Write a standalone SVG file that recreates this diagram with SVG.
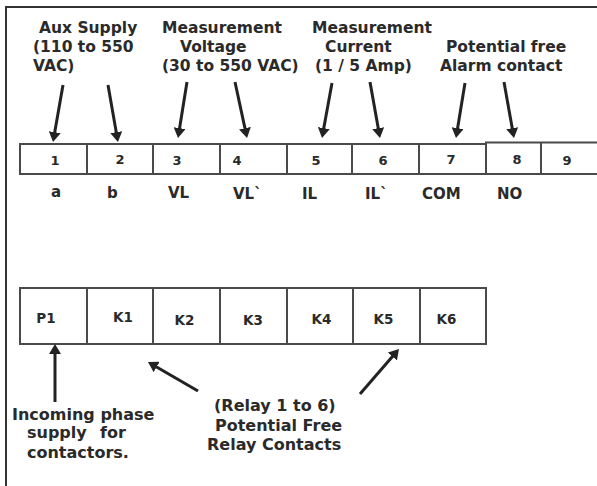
<svg xmlns="http://www.w3.org/2000/svg" width="597" height="486" viewBox="0 0 597 486">
<style>
text{font-family:"DejaVu Sans",Verdana,sans-serif;font-weight:bold;fill:#2a2a2a}
.h{font-size:15.5px}
.n{font-size:13px;text-anchor:middle}
.l{font-size:15px}
.k{font-size:13.5px;text-anchor:middle}
.b{font-size:16px}
.box{fill:#fff;stroke:#4a4a4a;stroke-width:2}
.div{stroke:#4a4a4a;stroke-width:2}
.arr{stroke:#222;stroke-width:3;fill:none;marker-end:url(#ah)}
.frame{stroke:#333;stroke-width:2;fill:none}
</style>
<defs>
<marker id="ah" viewBox="0 0 10 12" refX="5" refY="6" markerWidth="10" markerHeight="12" markerUnits="userSpaceOnUse" orient="auto">
<path d="M0,0 L10,6 L0,12 z" fill="#222"/>
</marker>
</defs>
<rect width="597" height="486" fill="#fff"/>
<path class="frame" d="M6,486 V7 H597"/>

<g id="labels-top">
<text class="h" x="39" y="33">Aux Supply</text>
<text class="h" x="33" y="52">(110 to 550</text>
<text class="h" x="33" y="71">VAC)</text>
<text class="h" x="162" y="33">Measurement</text>
<text class="h" x="180" y="52">Voltage</text>
<text class="h" x="162" y="71">(30 to 550 VAC)</text>
<text class="h" x="312" y="33">Measurement</text>
<text class="h" x="325" y="52">Current</text>
<text class="h" x="315" y="71">(1 / 5 Amp)</text>
<text class="h" x="446" y="52">Potential free</text>
<text class="h" x="440" y="71">Alarm contact</text>
</g>

<g id="terminal-strip">
<rect class="box" x="20" y="144" width="466" height="30"/>
<rect class="box" x="486" y="142.5" width="114" height="31.5"/>
<line class="div" x1="87" y1="144" x2="87" y2="174"/>
<line class="div" x1="153" y1="144" x2="153" y2="174"/>
<line class="div" x1="220" y1="144" x2="220" y2="174"/>
<line class="div" x1="287" y1="144" x2="287" y2="174"/>
<line class="div" x1="352" y1="144" x2="352" y2="174"/>
<line class="div" x1="419" y1="144" x2="419" y2="174"/>
<line class="div" x1="541" y1="142.5" x2="541" y2="174"/>
<text class="n" x="55" y="165">1</text>
<text class="n" x="120" y="164">2</text>
<text class="n" x="177" y="165">3</text>
<text class="n" x="237" y="165">4</text>
<text class="n" x="316" y="165">5</text>
<text class="n" x="383" y="165">6</text>
<text class="n" x="451" y="164">7</text>
<text class="n" x="517" y="164">8</text>
<text class="n" x="567" y="165">9</text>
</g>

<g id="terminal-names">
<text class="l" x="51" y="197">a</text>
<text class="l" x="107" y="198">b</text>
<text class="l" x="168" y="198">VL</text>
<text class="l" x="233" y="199">VL`</text>
<text class="l" x="302" y="199">IL</text>
<text class="l" x="365" y="199">IL`</text>
<text class="l" x="422" y="199">COM</text>
<text class="l" x="497" y="199">NO</text>
</g>

<g id="relay-strip">
<rect class="box" x="20" y="288" width="466" height="56"/>
<line class="div" x1="87" y1="288" x2="87" y2="344"/>
<line class="div" x1="153" y1="288" x2="153" y2="344"/>
<line class="div" x1="220" y1="288" x2="220" y2="344"/>
<line class="div" x1="287" y1="288" x2="287" y2="344"/>
<line class="div" x1="353" y1="288" x2="353" y2="344"/>
<line class="div" x1="420" y1="288" x2="420" y2="344"/>
<text class="k" x="46" y="323">P1</text>
<text class="k" x="123" y="322">K1</text>
<text class="k" x="184.5" y="325">K2</text>
<text class="k" x="253" y="325">K3</text>
<text class="k" x="321.5" y="324">K4</text>
<text class="k" x="383.5" y="324">K5</text>
<text class="k" x="446.5" y="324">K6</text>
</g>

<g id="labels-bottom">
<text class="b" x="12" y="420">Incoming phase</text>
<text class="b" y="438"><tspan x="27">supply </tspan><tspan x="100">for</tspan></text>
<text class="b" x="27" y="458">contactors.</text>
<text class="b" x="214" y="411">(Relay 1 to 6)</text>
<text class="b" x="215" y="431">Potential Free</text>
<text class="b" x="207" y="450">Relay Contacts</text>
</g>

<g id="connectors">
<line class="arr" x1="63" y1="85" x2="53.9" y2="137.1"/>
<line class="arr" x1="108" y1="85" x2="117.1" y2="137.1"/>
<line class="arr" x1="187" y1="82" x2="178.8" y2="133.1"/>
<line class="arr" x1="235" y1="82" x2="246" y2="133.1"/>
<line class="arr" x1="332" y1="83" x2="322.9" y2="133.1"/>
<line class="arr" x1="370" y1="82" x2="379.1" y2="133.1"/>
<line class="arr" x1="465" y1="83" x2="456.8" y2="133.1"/>
<line class="arr" x1="504" y1="82" x2="513.1" y2="133.1"/>
<line class="arr" x1="55" y1="402" x2="55" y2="349"/>
<line class="arr" x1="198" y1="391" x2="152.3" y2="364.5"/>
<line class="arr" x1="360" y1="394" x2="395.7" y2="352.8"/>
</g>
</svg>
